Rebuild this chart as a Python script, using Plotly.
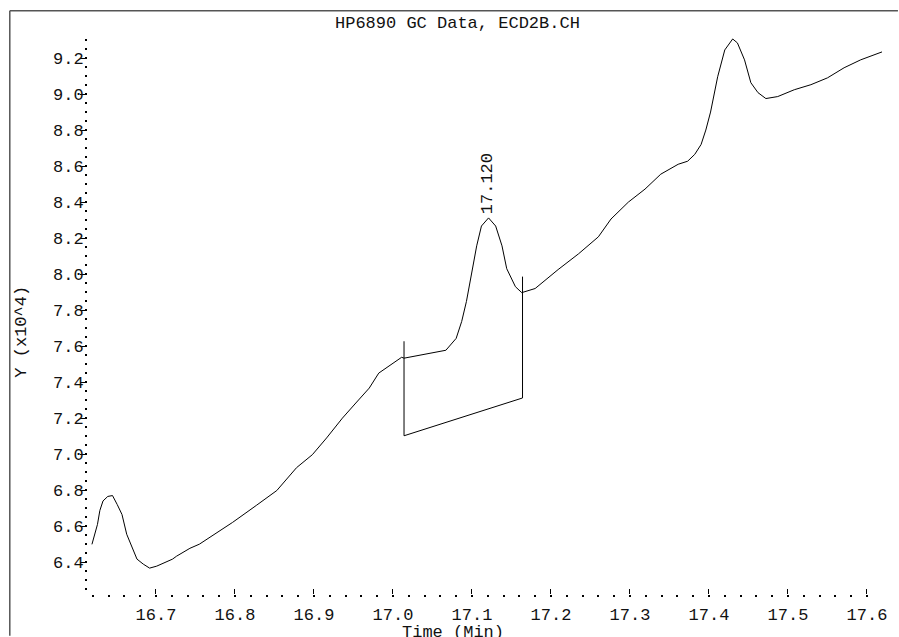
import plotly.graph_objects as go

# ---- data (signal in units of 10^4) ----
time_min = [16.619, 16.626, 16.629, 16.633, 16.639, 16.645, 16.651, 16.657, 16.663, 16.671,
            16.676, 16.684, 16.692, 16.701, 16.721, 16.726, 16.743, 16.755, 16.768, 16.797,
            16.827, 16.853, 16.878, 16.898, 16.916, 16.936, 16.953, 16.970, 16.982, 16.995,
            17.011, 17.014, 17.033, 17.067, 17.080, 17.087, 17.093, 17.100, 17.106, 17.112,
            17.121, 17.130, 17.138, 17.144, 17.155, 17.163, 17.172, 17.180, 17.209, 17.235,
            17.260, 17.276, 17.298, 17.319, 17.339, 17.361, 17.373, 17.382, 17.390, 17.396,
            17.402, 17.411, 17.420, 17.430, 17.436, 17.445, 17.453, 17.462, 17.472, 17.487,
            17.508, 17.529, 17.550, 17.571, 17.592, 17.619]
signal = [6.499, 6.610, 6.687, 6.740, 6.765, 6.770, 6.720, 6.665, 6.555, 6.466,
          6.417, 6.389, 6.367, 6.378, 6.417, 6.433, 6.477, 6.500, 6.538, 6.621,
          6.715, 6.798, 6.925, 6.997, 7.090, 7.200, 7.284, 7.367, 7.450, 7.488,
          7.538, 7.533, 7.549, 7.577, 7.643, 7.737, 7.848, 8.013, 8.157, 8.267,
          8.312, 8.267, 8.157, 8.030, 7.930, 7.897, 7.908, 7.920, 8.025, 8.113,
          8.207, 8.306, 8.400, 8.472, 8.555, 8.610, 8.627, 8.665, 8.720, 8.800,
          8.900, 9.096, 9.245, 9.306, 9.284, 9.190, 9.063, 9.008, 8.975, 8.986,
          9.024, 9.052, 9.090, 9.146, 9.190, 9.234]

# integration baseline marker
baseline_x = [17.014, 17.014, 17.164, 17.164]
baseline_y = [7.627, 7.102, 7.312, 7.986]

peak_time = 17.120
peak_height = 8.312
peak_label = "17.120"

x_ticks = [16.7, 16.8, 16.9, 17.0, 17.1, 17.2, 17.3, 17.4, 17.5, 17.6]
x_tick_labels = ["16.7", "16.8", "16.9", "17.0", "17.1", "17.2", "17.3", "17.4", "17.5", "17.6"]
y_ticks = [6.4, 6.6, 6.8, 7.0, 7.2, 7.4, 7.6, 7.8, 8.0, 8.2, 8.4, 8.6, 8.8, 9.0, 9.2]
y_tick_labels = ["6.4", "6.6", "6.8", "7.0", "7.2", "7.4", "7.6", "7.8", "8.0", "8.2",
                 "8.4", "8.6", "8.8", "9.0", "9.2"]

title_text = "HP6890 GC Data, ECD2B.CH"
x_title = "Time (Min)"
y_title = "Y (x10^4)"

# ---- layout geometry (pixels) ----
W, H = 899, 637
L, R, T, B = 88, 14, 35, 40
PW, PH = W - L - R, H - T - B


def px_x(p):
    return (p - L) / PW


def px_y(p):
    return (H - B - p) / PH


FONT = "Liberation Mono, DejaVu Sans Mono, monospace"
TXT = "#111111"

fig = go.Figure()
fig.add_trace(go.Scatter(x=time_min, y=signal, mode="lines",
                         line=dict(color="black", width=1), hoverinfo="skip"))
fig.add_trace(go.Scatter(x=baseline_x, y=baseline_y, mode="lines",
                         line=dict(color="black", width=1), hoverinfo="skip"))

fig.update_layout(
    width=W, height=H,
    margin=dict(l=L, r=R, t=T, b=B, pad=0),
    plot_bgcolor="white", paper_bgcolor="white",
    showlegend=False,
    font=dict(family=FONT, size=17, color=TXT),
    xaxis=dict(
        range=[16.614, 17.619],
        tickmode="array", tickvals=x_ticks, ticktext=x_tick_labels,
        ticks="inside", ticklen=5, tickwidth=1, tickcolor="black",
        showgrid=False, zeroline=False, showline=False,
        ticklabelstandoff=8,
        tickfont=dict(family=FONT, size=17, color=TXT),
        minor=dict(tickmode="linear", tick0=16.6, dtick=0.02, ticks="outside",
                   ticklen=2, tickwidth=2, tickcolor="black", showgrid=False),
    ),
    yaxis=dict(
        range=[6.2232, 9.328],
        tickmode="array", tickvals=y_ticks, ticktext=y_tick_labels,
        ticks="outside", ticklen=7, tickwidth=1, tickcolor="black",
        showgrid=False, zeroline=False, showline=False,
        ticklabelstandoff=-7,
        tickfont=dict(family=FONT, size=17, color=TXT),
        minor=dict(tickmode="linear", tick0=6.2, dtick=0.05, ticks="outside",
                   ticklen=2, tickwidth=2, tickcolor="black", showgrid=False),
    ),
    annotations=[
        dict(text=title_text, xref="paper", yref="paper", x=px_x(459), y=px_y(23),
             xanchor="center", yanchor="middle", showarrow=False,
             font=dict(family=FONT, size=17, color=TXT)),
        dict(text=x_title, xref="paper", yref="paper", x=px_x(454), y=px_y(636),
             xanchor="center", yanchor="middle", showarrow=False,
             font=dict(family=FONT, size=17, color=TXT)),
        dict(text=y_title, xref="paper", yref="paper", x=px_x(21), y=px_y(333),
             xanchor="center", yanchor="middle", textangle=-90, showarrow=False,
             font=dict(family=FONT, size=17, color=TXT)),
        dict(text=peak_label, x=peak_time, y=peak_height, xref="x", yref="y",
             xanchor="center", yanchor="bottom", textangle=-90, showarrow=False,
             yshift=2, font=dict(family=FONT, size=17, color=TXT)),
    ],
    shapes=[
        dict(type="line", xref="paper", yref="paper",
             x0=px_x(9.5), x1=px_x(9.5), y0=px_y(H + 2), y1=px_y(10.5),
             line=dict(color="#555555", width=1.5)),
        dict(type="line", xref="paper", yref="paper",
             x0=px_x(9.5), x1=px_x(W + 2), y0=px_y(10.5), y1=px_y(10.5),
             line=dict(color="#555555", width=1.5)),
    ],
)

fig.write_html(
    "out.html",
    config={"displayModeBar": False},
    post_script="document.body.style.margin='0';document.body.style.overflow='hidden';",
)
